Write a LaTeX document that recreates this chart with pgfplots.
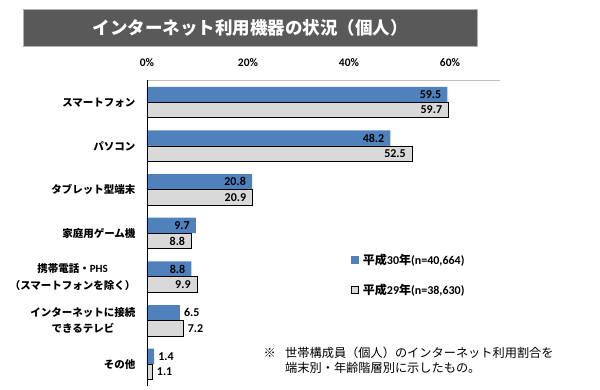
\documentclass[border=0pt]{standalone}
\usepackage{fontspec}
\setmainfont{Carlito}
\newfontfamily\jp{Noto Sans CJK JP}
\newfontfamily\lat{Carlito}
\usepackage{pgfplots}
\pgfplotsset{compat=1.18}
\definecolor{barblue}{HTML}{4F81BD}
\definecolor{bargray}{HTML}{D9D9D9}
\definecolor{titlegray}{HTML}{595959}
\definecolor{toplinegray}{HTML}{BFBFBF}

\begin{document}
\begin{tikzpicture}
\useasboundingbox (0,0) rectangle (600pt,390pt);
\filldraw[fill=titlegray, draw=gray!60, line width=0.6pt] (23pt,344pt) rectangle (477pt,381pt);
\node[text=white, font=\jp\bfseries\fontsize{17.5}{20}\selectfont] at (250pt,362.5pt) {インターネット利用機器の状況（個人）};

\begin{axis}[
  at={(147pt,309.5pt)}, anchor=north west,
  scale only axis, width=353.5pt, height=305.5pt,
  xbar, bar width=15.5pt,
  xmin=0, xmax=70, ymin=-0.5, ymax=6.5, y dir=reverse,
  axis line style={draw=none},
  xtick={0,20,40,60}, xticklabel pos=upper,
  /pgf/number format/assume math mode=true,
  xticklabel={\pgfmathprintnumber{\tick}\%},
  xticklabel style={font=\bfseries\fontsize{11.5}{12}\selectfont, yshift=10pt},
  ytick={0,1,2,3,4,5,6},
  yticklabels={
    スマートフォン,
    パソコン,
    タブレット型端末,
    家庭用ゲーム機,
    {携帯電話・{\lat\bfseries\fontsize{11}{11}\selectfont PHS}\\（スマートフォンを除く）},
    {インターネットに接続\\できるテレビ},
    その他},
  yticklabel style={font=\jp\bfseries\fontsize{10.5}{16.5}\selectfont, align=center, xshift=-8pt},
  major tick length=0pt,
  clip=false,
  point meta=x,
  nodes near coords={\pgfmathprintnumber[fixed,precision=1,fixed zerofill]{\pgfplotspointmeta}},
  nodes near coords style={font=\bfseries\fontsize{12}{12}\selectfont, text=black, inner sep=2pt},
  legend style={at={(axis description cs:0.577,0.44)}, anchor=north west, draw=none, fill=none,
    inner sep=0pt, row sep=14pt, font=\bfseries\fontsize{12}{14}\selectfont,
    /tikz/every odd column/.append style={column sep=2pt}},
  legend cell align=left,
]
% 平成30年 (blue)
\addplot[forget plot, fill=barblue, draw=none, bar shift=7.75pt,
  nodes near coords style={anchor=east, xshift=-4pt}]
  coordinates {(59.5,0) (48.2,1) (20.8,2) (9.7,3) (8.8,4)};
\addplot[forget plot, fill=barblue, draw=none, bar shift=7.75pt,
  nodes near coords style={anchor=west, xshift=2pt}]
  coordinates {(6.5,5) (1.4,6)};
% 平成29年 (gray)
\addplot[forget plot, fill=bargray, draw=black, line width=0.8pt, bar shift=-7.75pt,
  nodes near coords style={anchor=east, xshift=-4pt}]
  coordinates {(59.7,0) (52.5,1) (20.9,2) (8.8,3) (9.9,4)};
\addplot[forget plot, fill=bargray, draw=black, line width=0.8pt, bar shift=-7.75pt,
  nodes near coords style={anchor=west, xshift=2pt}]
  coordinates {(7.2,5) (1.1,6)};

\draw[toplinegray, line width=1.5pt] (axis cs:0,-0.5) -- (axis cs:70,-0.5);
\draw[black, line width=0.9pt] (axis cs:0,-0.5) -- (axis cs:0,6.5);

\addlegendimage{legend image code/.code={\fill[barblue] (0pt,-3.5pt) rectangle (7pt,3.5pt);}}
\addlegendentry{{\jp 平成}30{\jp 年}(n=40,664)}
\addlegendimage{legend image code/.code={\draw[fill=bargray, draw=black, line width=0.8pt] (0pt,-3.5pt) rectangle (7pt,3.5pt);}}
\addlegendentry{{\jp 平成}29{\jp 年}(n=38,630)}
\end{axis}

\node[anchor=west, font=\jp\fontsize{12.2}{15}\selectfont] at (260pt,37pt) {※};
\node[anchor=west, font=\jp\fontsize{12.2}{15}\selectfont, inner sep=0pt] at (285pt,37pt) {世帯構成員（個人）のインターネット利用割合を};
\node[anchor=west, font=\jp\fontsize{12.2}{15}\selectfont, inner sep=0pt] at (285pt,22pt) {端末別・年齢階層別に示したもの。};
\end{tikzpicture}
\end{document}
